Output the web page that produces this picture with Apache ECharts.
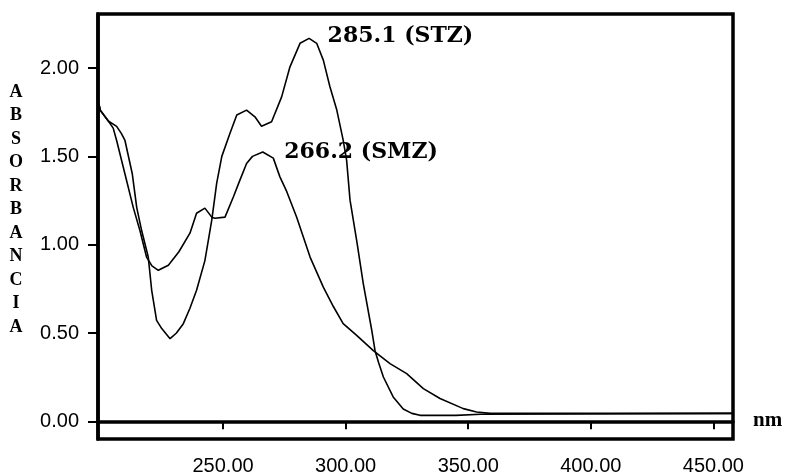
<!DOCTYPE html>
<html>
<head>
<meta charset="utf-8">
<script src="https://cdn.jsdelivr.net/npm/echarts@6/dist/echarts.min.js"></script>
<style>html,body{margin:0;padding:0;background:#fff}#c{width:787px;height:476px}</style>
</head>
<body>
<div id="c"></div>
<script>
// STZ spectrum (nm, absorbance)
var stzNm  = [199.3, 200, 203.2, 206.6, 208.5, 210, 213, 214.8, 216.8, 219.5, 220.9, 222.9, 225, 228.4, 231, 233.8, 236.5, 239.2, 242.6, 245.4, 247.4, 249.5, 252.8, 255.6, 259.6, 263, 265.7, 269.8, 273.9, 277.3, 281.4, 285.1, 288.2, 290.9, 293.6, 296.4, 299, 300.4, 301.8, 304.5, 307.2, 310.6, 312, 313.5, 315.4, 319.4, 323.5, 327, 330.3, 345, 355, 458];
var stzAbs = [1.80, 1.76, 1.70, 1.67, 1.63, 1.59, 1.40, 1.21, 1.08, 0.93, 0.742, 0.572, 0.525, 0.468, 0.50, 0.553, 0.64, 0.742, 0.91, 1.139, 1.347, 1.50, 1.63, 1.734, 1.762, 1.724, 1.671, 1.696, 1.837, 2.007, 2.14, 2.168, 2.14, 2.045, 1.894, 1.762, 1.592, 1.479, 1.252, 1.025, 0.78, 0.52, 0.40, 0.33, 0.251, 0.138, 0.07, 0.045, 0.034, 0.034, 0.04, 0.045];
// SMZ spectrum (nm, absorbance)
var smzNm  = [199.3, 200, 203.2, 205.2, 206.6, 210, 213.4, 216.1, 218.8, 221, 223.6, 227.7, 232, 236.5, 239.2, 242.6, 245.4, 246.7, 250.8, 254.2, 257, 259.6, 262, 266.2, 270.5, 273.2, 276, 280, 285.5, 290.9, 295, 299, 304.5, 311.3, 318.1, 324.9, 331.7, 338.5, 348, 353.4, 359, 458];
var smzAbs = [1.80, 1.76, 1.70, 1.66, 1.59, 1.40, 1.21, 1.08, 0.93, 0.88, 0.855, 0.884, 0.96, 1.065, 1.178, 1.207, 1.156, 1.15, 1.156, 1.27, 1.37, 1.46, 1.50, 1.525, 1.49, 1.384, 1.30, 1.157, 0.93, 0.76, 0.65, 0.553, 0.487, 0.40, 0.327, 0.27, 0.185, 0.129, 0.072, 0.053, 0.045, 0.045];
// Peak annotations
var peakNm = [285.1, 266.2];
var peakAbs = [2.168, 1.525];
var peakLabels = ['285.1 (STZ)', '266.2 (SMZ)'];
// Tick labels
var xTicks = [250, 300, 350, 400, 450];
var yTicks = [0, 0.5, 1.0, 1.5, 2.0];
var yTitle = 'ABSORBANCIA';
var xTitle = 'nm';

function pairs(xs, ys) { return xs.map(function (x, i) { return [x, ys[i]]; }); }

var chart = echarts.init(document.getElementById('c'), null, {renderer: 'canvas'});
var lblStyle = {fontFamily: 'DejaVu Serif', fontWeight: 'bold', fontSize: 22, color: '#000'};
function peakMark(i, off) {
  return {
    symbol: 'circle', symbolSize: 1, silent: true,
    itemStyle: {color: 'rgba(0,0,0,0)'},
    label: Object.assign({show: true, position: 'right', distance: 0, offset: off, formatter: peakLabels[i]}, lblStyle),
    data: [{coord: [peakNm[i], peakAbs[i]]}]
  };
}
chart.setOption({
  animation: false,
  backgroundColor: '#fff',
  grid: {left: 98, right: 54, top: 14, bottom: 37, show: true, borderColor: '#000', borderWidth: 3.5, containLabel: false, outerBoundsMode: 'none'},
  xAxis: {
    type: 'value', min: 199, max: 458,
    axisLine: {show: true, lineStyle: {color: '#000', width: 3.5}},
    axisTick: {show: true, length: 8, customValues: xTicks, lineStyle: {color: '#000', width: 2}},
    axisLabel: {customValues: xTicks, margin: 17, formatter: function (v) { return v.toFixed(2); },
      fontFamily: 'Liberation Sans', fontSize: 20, color: '#000'},
    splitLine: {show: false}
  },
  yAxis: {
    type: 'value', min: -0.1, max: 2.306,
    axisLine: {show: true, lineStyle: {color: '#000', width: 3.5}},
    axisTick: {show: true, length: 10, customValues: yTicks, lineStyle: {color: '#000', width: 2}},
    axisLabel: {customValues: yTicks, margin: 19, formatter: function (v) { return v.toFixed(2); },
      fontFamily: 'Liberation Sans', fontSize: 20, color: '#000'},
    splitLine: {show: false}
  },
  graphic: [
    {type: 'text', left: 753, top: 410, style: {text: xTitle, font: 'bold 21px "Liberation Serif"', fill: '#000'}},
    {type: 'text', x: 16, y: 80.25, style: {text: yTitle.split('').join('\n'), font: 'bold 18px "Liberation Serif"', fill: '#000', align: 'center', lineHeight: 23.5, verticalAlign: 'top'}}
  ],
  series: [
    {name: 'STZ', type: 'line', data: pairs(stzNm, stzAbs), showSymbol: false, smooth: false,
      lineStyle: {color: '#000', width: 1.6}, markPoint: peakMark(0, [18, -2])},
    {name: 'SMZ', type: 'line', data: pairs(smzNm, smzAbs), showSymbol: false, smooth: false,
      lineStyle: {color: '#000', width: 1.6}, markPoint: peakMark(1, [21, 0])}
  ]
});
</script>
</body>
</html>
